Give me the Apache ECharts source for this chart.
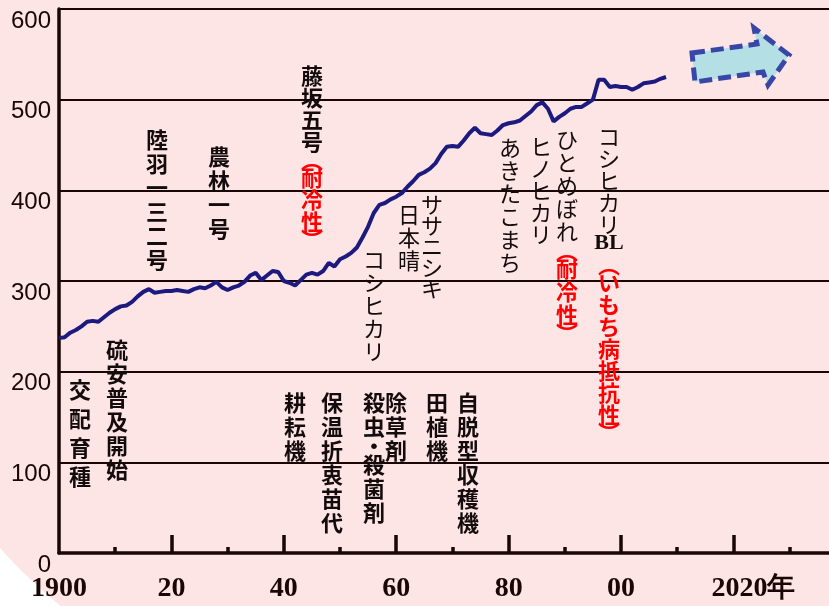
<!DOCTYPE html>
<html><head><meta charset="utf-8">
<script src="https://cdn.jsdelivr.net/npm/echarts@6/dist/echarts.min.js"></script>
<style>html,body{margin:0;padding:0;background:#fde5e6;}#c{width:829px;height:606px;}</style>
</head><body><div id="c"></div>
<script>
// ---- data ----
const years = [1900,1901,1902,1903,1904,1905,1906,1907,1908,1909,
  1910,1911,1912,1913,1914,1915,1916,1917,1918,1919,
  1920,1921,1922,1923,1924,1925,1926,1927,1928,1929,
  1930,1931,1932,1933,1934,1935,1936,1937,1938,1939,
  1940,1941,1942,1943,1944,1945,1946,1947,1948,1949,
  1950,1951,1952,1953,1954,1955,1956,1957,1958,1959,
  1960,1961,1962,1963,1964,1965,1966,1967,1968,1969,
  1970,1971,1972,1973,1974,1975,1976,1977,1978,1979,
  1980,1981,1982,1983,1984,1985,1986,1987,1988,1989,
  1990,1991,1992,1993,1994,1995,1996,1997,1998,1999,
  2000,2001,2002,2003,2004,2005,2006,2007,2008];
const yields = [237,238,243,246,250,255,256,255,260,265,
  269,272,273,277,283,288,291,287,288,289,
  289,290,289,288,291,293,292,295,299,293,
  290,293,295,299,306,309,301,306,311,310,
  300,298,295,301,307,309,307,311,320,316,
  324,327,331,337,348,360,375,384,386,390,
  393,397,404,410,417,420,424,430,440,448,
  449,448,455,463,469,463,462,461,466,472,
  474,475,477,482,487,494,497,490,476,481,
  485,490,492,492,496,500,522,522,514,515,
  514,514,511,514,518,519,520,523,525];
const yTickValues = [0,100,200,300,400,500,600];
const xLabelValues = [1900,1920,1940,1960,1980,2000,2020];
const xLabelTexts = ['1900','20','40','60','80','00','2020年'];
const majorTickYears = [1920,1940,1960,1980,2000,2020];
const minorTickYears = [1910,1930,1950,1970,1990,2010,2030];

// annotation columns (vertical text)
const BLACK = '#140c0c', RED = '#ff0000';
const notes = [
  {x:157, y:140, p:24, w:'bold', segs:[['陸羽一三二号',BLACK]]},
  {x:219, y:157, p:24, w:'bold', segs:[['農林一号',BLACK]]},
  {x:312, y:76,  p:22, w:'bold', segs:[['藤坂五号',BLACK],['︵耐冷性︶',RED]]},
  {x:374, y:260, p:23, w:'normal', segs:[['コシヒカリ',BLACK]]},
  {x:432, y:205, p:21, w:'normal', segs:[['ササニシキ',BLACK]]},
  {x:409, y:215, p:23, w:'normal', segs:[['日本晴',BLACK]]},
  {x:510, y:148, p:23, w:'normal', segs:[['あきたこまち',BLACK]]},
  {x:541, y:147, p:22, w:'normal', segs:[['ヒノヒカリ',BLACK]]},
  {x:567, y:140, p:23, w:'normal', segs:[['ひとめぼれ',BLACK],['︵耐冷性︶',RED]]},
  {x:609, y:137, p:22, w:'normal', segs:[['コシヒカリ',BLACK],['BL',BLACK],['︵いもち病抵抗性︶',RED]]},
  {x:80,  y:390, p:29, w:'bold', segs:[['交配育種',BLACK]]},
  {x:117, y:350, p:24, w:'bold', segs:[['硫安普及開始',BLACK]]},
  {x:295, y:403, p:24, w:'bold', segs:[['耕耘機',BLACK]]},
  {x:332, y:403, p:24, w:'bold', segs:[['保温折衷苗代',BLACK]]},
  {x:374, y:403, p:24, w:'bold', segs:[['殺虫・殺菌剤',BLACK]]},
  {x:396, y:403, p:24, w:'bold', segs:[['除草剤',BLACK]]},
  {x:437, y:403, p:24, w:'bold', segs:[['田植機',BLACK]]},
  {x:468, y:403, p:24, w:'bold', segs:[['自脱型収穫機',BLACK]]}
];

// ---- build graphic elements ----
const CJK = '"Noto Sans CJK JP", "Noto Sans CJK SC", sans-serif';
const graphics = [];
// white corner outside the pink rounded background
(function(){
  const cx = 400, cy = 190, r = Math.hypot(400, 548-190);
  const pts = [[0,606]];
  const a0 = Math.atan2(548-cy, 0-cx), a1 = Math.atan2(606-cy, -Math.sqrt(r*r-(606-cy)*(606-cy)));
  for (let i=0;i<=30;i++){ const a = a0 + (a1-a0)*i/30; pts.push([cx + r*Math.cos(a), cy + r*Math.sin(a)]); }
  graphics.push({type:'polygon', z:-10, silent:true, shape:{points:pts}, style:{fill:'#ffffff'}});
})();
notes.forEach(n => {
  let cursor = n.y - n.p/2;
  n.segs.forEach(([txt,color]) => {
    const tokens = txt === 'BL' ? ['BL'] : Array.from(txt);
    tokens.forEach(ch => {
      let h = n.p;
      if (ch === '︵' || ch === '︶') h = 14;
      else if (ch === '・') h = 14;
      else if (ch === 'BL') h = 22;
      const cyy = cursor + h/2;
      cursor += h;
      const isBL = ch === 'BL';
      graphics.push({
        type:'text', z:50, silent:true,
        x:n.x, y:isBL ? cyy - 4 : cyy,
        style:{
          text: ch, fill: color,
          fontSize: 22,
          fontWeight: (color===RED || isBL) ? 'bold' : n.w,
          fontFamily: isBL ? '"Liberation Serif", serif' : CJK,
          textAlign:'center', textVerticalAlign:'middle', align:'center', verticalAlign:'middle'
        }
      });
    });
  });
});
// dashed arrow
graphics.push({
  type:'polygon', z:40, silent:true,
  shape:{points:[[692,53],[757,44],[754,28],[789,55],[768,85],[763,72],[695,82]]},
  style:{fill:'#b3dfe5', stroke:'#3846a6', lineWidth:5, lineDash:[13,6]}
});

const axisColor = '#1a0606';
const chart = echarts.init(document.getElementById('c'), null, {renderer:'canvas'});
chart.setOption({
  backgroundColor: 'transparent',
  animation: false,
  grid: {left:59, right:0, top:9, bottom:53, containLabel:false},
  xAxis: [{
    type:'value', min:1900, max:2037, interval:20, position:'bottom',
    axisLine:{show:true, onZero:false, lineStyle:{color:axisColor, width:3.5}},
    axisTick:{show:true, inside:true, length:18, customValues: majorTickYears, lineStyle:{color:axisColor, width:3.5}},
    axisLabel:{
      customValues: xLabelValues, margin:22, color:axisColor,
      fontFamily:'"Liberation Serif", "Times New Roman", serif', fontWeight:'bold', fontSize:28,
      formatter: v => { const i = xLabelValues.indexOf(v); if (i < 0) return ''; return v === 2020 ? '{sp|}' + xLabelTexts[i] : xLabelTexts[i]; },
      rich: {sp:{width:40}}
    },
    splitLine:{show:false}
  },{
    type:'value', min:1900, max:2037, interval:20, position:'bottom', offset:0,
    axisLine:{show:false},
    axisTick:{show:true, inside:true, length:6, customValues: minorTickYears, lineStyle:{color:axisColor, width:3.5}},
    axisLabel:{show:false},
    splitLine:{show:false}
  }],
  yAxis: {
    type:'value', min:0, max:600, interval:100,
    axisLine:{show:true, lineStyle:{color:axisColor, width:3.5}},
    axisTick:{show:false},
    axisLabel:{customValues: yTickValues, color:axisColor, fontFamily:'"Liberation Sans", Arial, sans-serif', fontSize:24, verticalAlign:'top', margin:8},
    splitLine:{show:true, lineStyle:{color:axisColor, width:2}}
  },
  series: [{
    type:'line', xAxisIndex:0, yAxisIndex:0,
    data: years.map((y,i) => [y, yields[i]]),
    showSymbol:false, smooth:false, z:5,
    lineStyle:{color:'#1c1a7e', width:4}
  }],
  graphic: graphics
});
</script>
</body></html>
